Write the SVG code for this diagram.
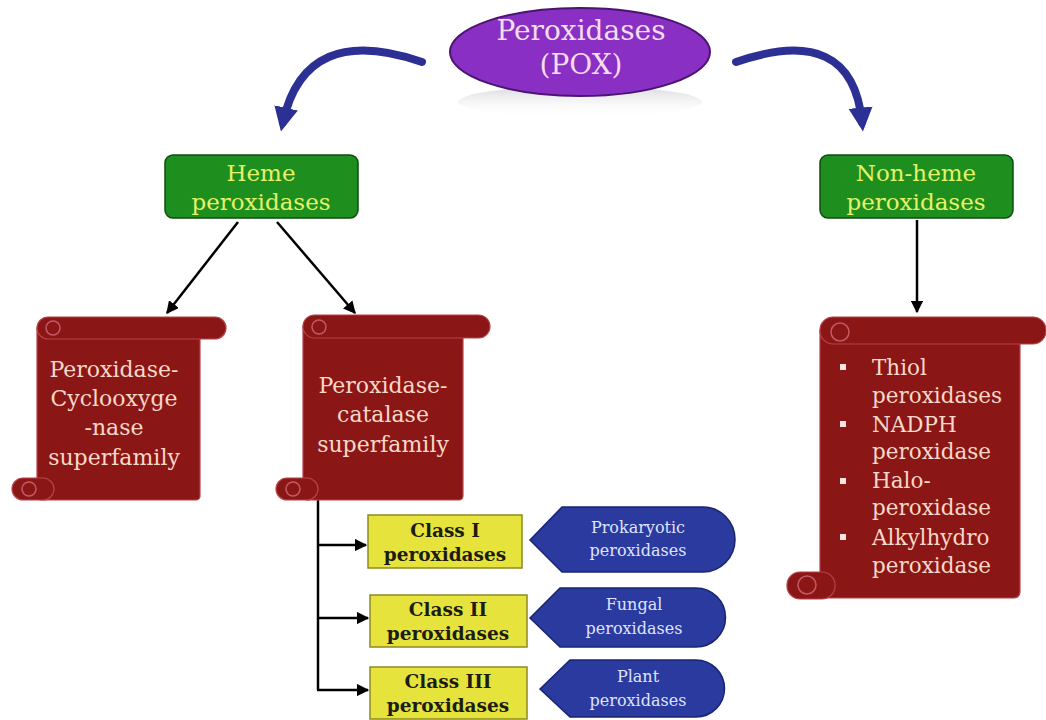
<svg xmlns="http://www.w3.org/2000/svg" width="1046" height="720" viewBox="0 0 1046 720">
<defs>
<style>
.serif{font-family:"DejaVu Serif","Liberation Serif",serif}
.scroll{fill:#8b1616;stroke:#b8414b;stroke-width:1.2}
.curl{fill:none;stroke:#c25a66;stroke-width:1.5}
.scrolltxt{fill:#f7d8c9;font-size:22px;text-anchor:middle}
.listtxt{fill:#f7d8c9;font-size:21.5px}
.green{fill:#1e8e1e;stroke:#0e4d0e;stroke-width:1.5}
.greentxt{fill:#e4f36a;font-size:23px;text-anchor:middle}
.yellow{fill:#e6e43c;stroke:#8c8a20;stroke-width:1.5}
.yellowtxt{fill:#1c1c10;font-size:18.5px;font-weight:bold;text-anchor:middle}
.blue{fill:#2a3a9e;stroke:#1a2470;stroke-width:1.5}
.bluetxt{fill:#dfe3ff;font-size:16px;text-anchor:middle}
.conn{fill:none;stroke:#000;stroke-width:2.5}
.barrow{fill:none;stroke:#2c2f94;stroke-width:8;stroke-linecap:round}
</style>
<marker id="ah" viewBox="0 0 10 10" refX="9" refY="5" markerWidth="5" markerHeight="5" orient="auto" markerUnits="strokeWidth">
<path d="M0,0 L10,5 L0,10 z" fill="#000"/>
</marker>
<marker id="bh" viewBox="0 0 10 10" refX="6" refY="5" markerWidth="3" markerHeight="3" orient="auto" markerUnits="strokeWidth">
<path d="M0,0 L10,5 L0,10 z" fill="#2c2f94"/>
</marker>
<linearGradient id="refl" x1="0" y1="0" x2="0" y2="1">
<stop offset="0" stop-color="#c8c8d0" stop-opacity="0.7"/>
<stop offset="1" stop-color="#ffffff" stop-opacity="0"/>
</linearGradient>
</defs>
<rect width="1046" height="720" fill="#ffffff"/>

<g id="connectors">
<path class="barrow" d="M422 62 Q 305 22 283 122" marker-end="url(#bh)"/>
<path class="barrow" d="M736 62 Q 852 22 862 122" marker-end="url(#bh)"/>
<line class="conn" x1="238" y1="222" x2="167" y2="313" marker-end="url(#ah)"/>
<line class="conn" x1="277" y1="222" x2="355" y2="313" marker-end="url(#ah)"/>
<line class="conn" x1="917" y1="220" x2="917" y2="312" marker-end="url(#ah)"/>
<path class="conn" d="M318 500 V690"/>
<line class="conn" x1="317" y1="545" x2="366" y2="545" marker-end="url(#ah)"/>
<line class="conn" x1="317" y1="618" x2="368" y2="618" marker-end="url(#ah)"/>
<line class="conn" x1="317" y1="690" x2="368" y2="690" marker-end="url(#ah)"/>
</g>

<g id="pox">
<ellipse cx="580" cy="102" rx="122" ry="16" fill="url(#refl)"/>
<ellipse cx="580" cy="52" rx="130" ry="44" fill="#8a2fc4" stroke="#4a1470" stroke-width="2"/>
<text class="serif" x="581" y="40" font-size="28" fill="#f4dcf2" text-anchor="middle">Peroxidases</text>
<text class="serif" x="581" y="74" font-size="28" fill="#f4dcf2" text-anchor="middle">(POX)</text>
</g>

<g id="heme">
<rect class="green" x="165" y="155" width="193" height="63" rx="8"/>
<text class="serif greentxt" x="261" y="181">Heme</text>
<text class="serif greentxt" x="261" y="210">peroxidases</text>
</g>

<g id="nonheme">
<rect class="green" x="820" y="155" width="193" height="63" rx="8"/>
<text class="serif greentxt" x="916" y="181">Non-heme</text>
<text class="serif greentxt" x="916" y="210">peroxidases</text>
</g>

<g id="cox">
<rect class="scroll" x="37" y="325" width="163" height="175" rx="4"/>
<rect class="scroll" x="37" y="317" width="189" height="22" rx="11"/>
<circle class="curl" cx="53" cy="328" r="7"/>
<rect class="scroll" x="12" y="478" width="42" height="22" rx="11"/>
<circle class="curl" cx="29" cy="489" r="7"/>
<text class="serif scrolltxt" x="114" y="377">Peroxidase-</text>
<text class="serif scrolltxt" x="114" y="406">Cyclooxyge</text>
<text class="serif scrolltxt" x="114" y="435">-nase</text>
<text class="serif scrolltxt" x="114" y="465">superfamily</text>
</g>

<g id="catalase">
<rect class="scroll" x="303" y="323" width="160" height="177" rx="4"/>
<rect class="scroll" x="303" y="315" width="187" height="23" rx="11.5"/>
<circle class="curl" cx="319" cy="327" r="7"/>
<rect class="scroll" x="276" y="478" width="42" height="22" rx="11"/>
<circle class="curl" cx="293" cy="489" r="7"/>
<text class="serif scrolltxt" x="383" y="393">Peroxidase-</text>
<text class="serif scrolltxt" x="383" y="422">catalase</text>
<text class="serif scrolltxt" x="383" y="452">superfamily</text>
</g>

<g id="nonhemelist">
<rect class="scroll" x="820" y="325" width="200" height="273" rx="6"/>
<rect class="scroll" x="820" y="317" width="226" height="27" rx="13"/>
<circle class="curl" cx="840" cy="332" r="9"/>
<rect class="scroll" x="787" y="572" width="48" height="27" rx="13"/>
<circle class="curl" cx="807" cy="585" r="9"/>
<g fill="#f2e6e0">
<rect x="840" y="364" width="6" height="6"/>
<rect x="840" y="421" width="6" height="6"/>
<rect x="840" y="478" width="6" height="6"/>
<rect x="840" y="534" width="6" height="6"/>
</g>
<text class="serif listtxt" x="872" y="375">Thiol</text>
<text class="serif listtxt" x="872" y="403">peroxidases</text>
<text class="serif listtxt" x="872" y="432">NADPH</text>
<text class="serif listtxt" x="872" y="459">peroxidase</text>
<text class="serif listtxt" x="872" y="488">Halo-</text>
<text class="serif listtxt" x="872" y="515">peroxidase</text>
<text class="serif listtxt" x="872" y="545">Alkylhydro</text>
<text class="serif listtxt" x="872" y="573">peroxidase</text>
</g>

<g id="class1">
<rect class="yellow" x="368" y="515" width="154" height="53"/>
<text class="serif yellowtxt" x="445" y="537">Class I</text>
<text class="serif yellowtxt" x="445" y="561">peroxidases</text>
</g>
<g id="class2">
<rect class="yellow" x="370" y="595" width="157" height="52"/>
<text class="serif yellowtxt" x="448" y="616">Class II</text>
<text class="serif yellowtxt" x="448" y="640">peroxidases</text>
</g>
<g id="class3">
<rect class="yellow" x="370" y="667" width="157" height="52"/>
<text class="serif yellowtxt" x="448" y="688">Class III</text>
<text class="serif yellowtxt" x="448" y="712">peroxidases</text>
</g>

<g id="prok">
<path class="blue" d="M530 540 L562 507 H703 A32 32.5 0 0 1 703 572 H562 Z"/>
<text class="serif bluetxt" x="638" y="533">Prokaryotic</text>
<text class="serif bluetxt" x="638" y="556">peroxidases</text>
</g>
<g id="fungal">
<path class="blue" d="M530 618 L560 588 H696 A29.5 29.5 0 0 1 696 647 H560 Z"/>
<text class="serif bluetxt" x="634" y="610">Fungal</text>
<text class="serif bluetxt" x="634" y="634">peroxidases</text>
</g>
<g id="plant">
<path class="blue" d="M540 689 L570 660 H696 A28.5 28.5 0 0 1 696 717 H570 Z"/>
<text class="serif bluetxt" x="638" y="682">Plant</text>
<text class="serif bluetxt" x="638" y="706">peroxidases</text>
</g>
</svg>
